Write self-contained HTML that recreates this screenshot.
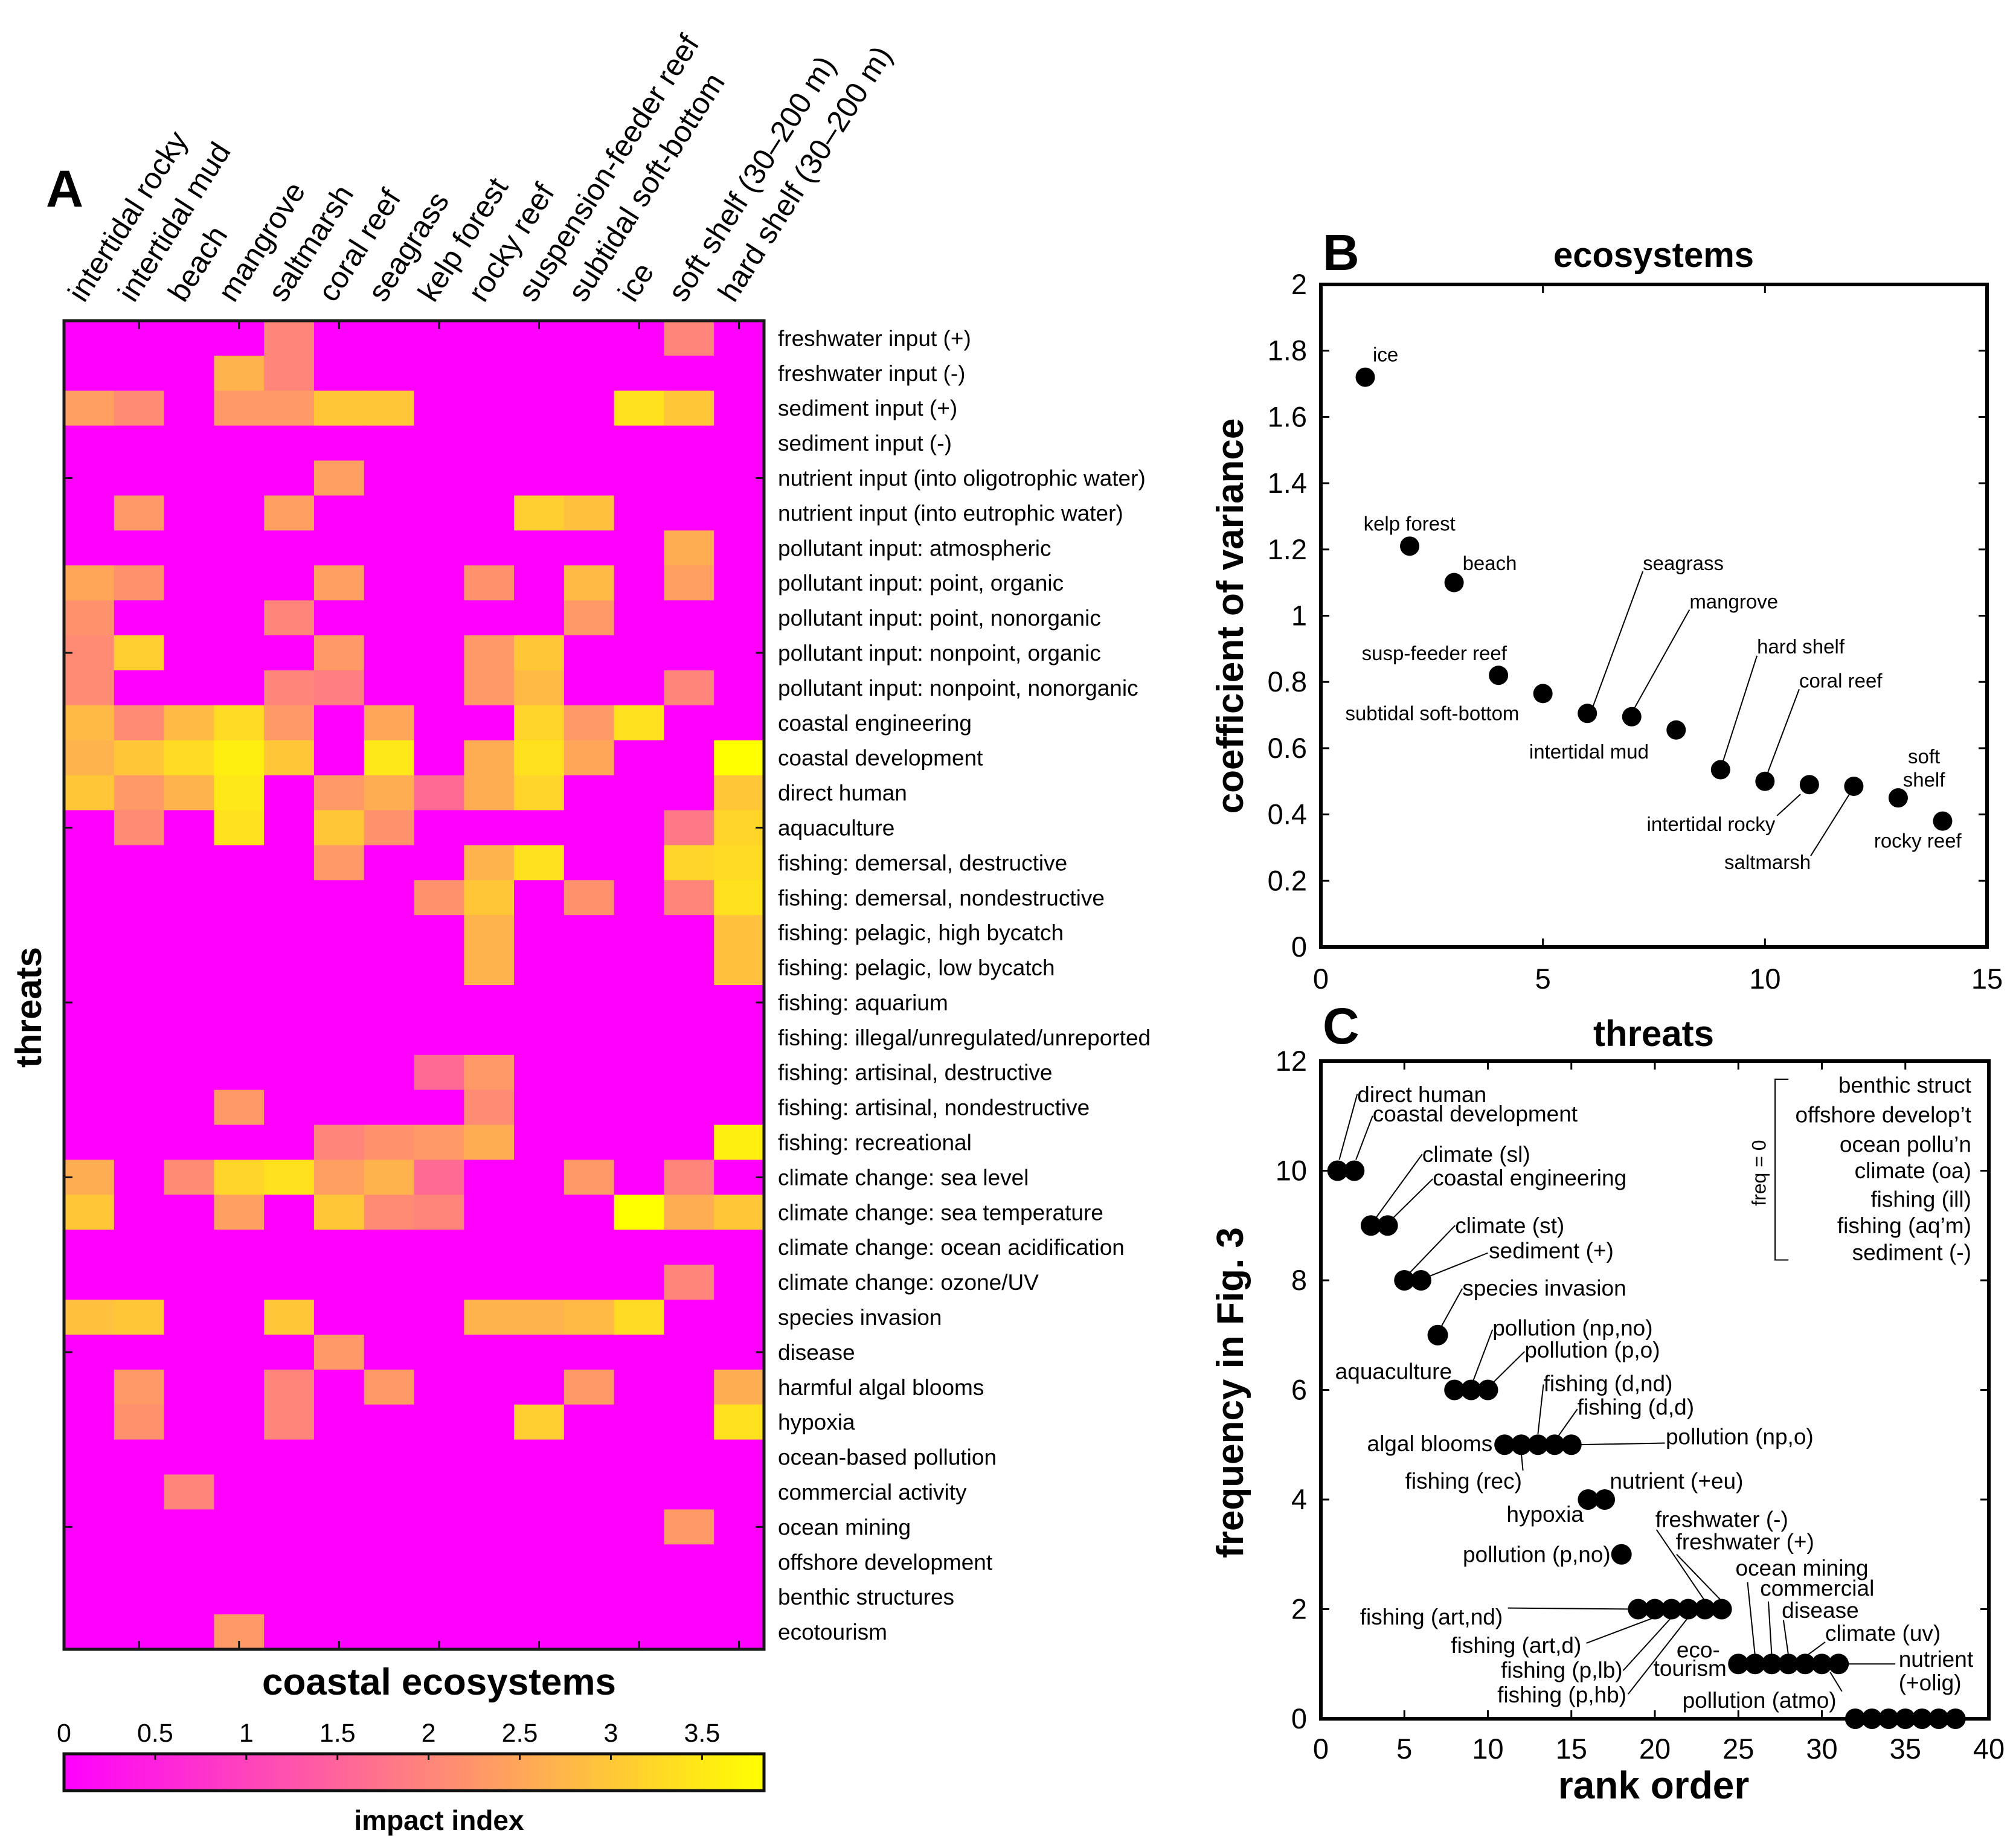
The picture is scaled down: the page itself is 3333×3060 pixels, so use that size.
<!DOCTYPE html>
<html><head><meta charset="utf-8">
<style>
html,body{margin:0;padding:0;background:#fff;}
svg{display:block;font-family:"Liberation Sans",Arial,sans-serif;}
</style></head>
<body>
<svg id="fig" xmlns="http://www.w3.org/2000/svg" width="3333" height="3060" viewBox="0 0 3333 3060">
<rect x="0" y="0" width="3333" height="3060" fill="#fff"/>
<g id="panelA"></g>
<g id="panelB"></g>
<g id="panelC"></g>
</svg>
<script>
// ---------- Panel A data ----------
const ecosystems = ["intertidal rocky","intertidal mud","beach","mangrove","saltmarsh","coral reef","seagrass","kelp forest","rocky reef","suspension-feeder reef","subtidal soft-bottom","ice","soft shelf (30–200 m)","hard shelf (30–200 m)"];
const threats = ["freshwater input (+)","freshwater input (-)","sediment input (+)","sediment input (-)","nutrient input (into oligotrophic water)","nutrient input (into eutrophic water)","pollutant input: atmospheric","pollutant input: point, organic","pollutant input: point, nonorganic","pollutant input: nonpoint, organic","pollutant input: nonpoint, nonorganic","coastal engineering","coastal development","direct human","aquaculture","fishing: demersal, destructive","fishing: demersal, nondestructive","fishing: pelagic, high bycatch","fishing: pelagic, low bycatch","fishing: aquarium","fishing: illegal/unregulated/unreported","fishing: artisinal, destructive","fishing: artisinal, nondestructive","fishing: recreational","climate change: sea level","climate change: sea temperature","climate change: ocean acidification","climate change: ozone/UV","species invasion","disease","harmful algal blooms","hypoxia","ocean-based pollution","commercial activity","ocean mining","offshore development","benthic structures","ecotourism"];
const impact = [
[0,0,0,0,2.0,0,0,0,0,0,0,0,2.0,0],
[0,0,0,2.7,2.0,0,0,0,0,0,0,0,0,0],
[2.4,2.1,0,2.3,2.3,3.0,3.0,0,0,0,0,3.4,3.0,0],
[0,0,0,0,0,0,0,0,0,0,0,0,0,0],
[0,0,0,0,0,2.4,0,0,0,0,0,0,0,0],
[0,2.3,0,0,2.4,0,0,0,0,3.1,2.9,0,0,0],
[0,0,0,0,0,0,0,0,0,0,0,0,2.6,0],
[2.5,2.2,0,0,0,2.4,0,0,2.2,0,2.8,0,2.4,0],
[2.2,0,0,0,2.0,0,0,0,0,0,2.3,0,0,0],
[2.1,3.1,0,0,0,2.3,0,0,2.3,3.0,0,0,0,0],
[2.1,0,0,0,2.0,1.9,0,0,2.3,2.8,0,0,2.0,0],
[2.8,2.1,2.8,3.3,2.3,0,2.5,0,0,3.2,2.3,3.4,0,0],
[2.7,3.0,3.3,3.6,3.0,0,3.5,0,2.6,3.4,2.5,0,0,3.84],
[3.0,2.3,2.7,3.5,0,2.3,2.6,1.6,2.6,3.2,0,0,0,3.0],
[0,2.1,0,3.4,0,3.0,2.2,0,0,0,0,0,1.8,3.2],
[0,0,0,0,0,2.3,0,0,2.7,3.4,0,0,3.2,3.3],
[0,0,0,0,0,0,0,2.2,3.0,0,2.2,0,2.0,3.4],
[0,0,0,0,0,0,0,0,2.7,0,0,0,0,2.9],
[0,0,0,0,0,0,0,0,2.7,0,0,0,0,2.9],
[0,0,0,0,0,0,0,0,0,0,0,0,0,0],
[0,0,0,0,0,0,0,0,0,0,0,0,0,0],
[0,0,0,0,0,0,0,1.6,2.3,0,0,0,0,0],
[0,0,0,2.3,0,0,0,0,2.1,0,0,0,0,0],
[0,0,0,0,0,2.0,2.2,2.3,2.6,0,0,0,0,3.6],
[2.6,0,2.1,3.2,3.4,2.4,2.7,1.6,0,0,2.3,0,2.0,0],
[3.0,0,0,2.4,0,3.0,2.1,2.0,0,0,0,3.84,2.6,3.0],
[0,0,0,0,0,0,0,0,0,0,0,0,0,0],
[0,0,0,0,0,0,0,0,0,0,0,0,2.0,0],
[2.9,3.0,0,0,3.0,0,0,0,2.7,2.7,2.8,3.3,0,0],
[0,0,0,0,0,2.3,0,0,0,0,0,0,0,0],
[0,2.3,0,0,2.0,0,2.3,0,0,0,2.3,0,0,2.6],
[0,2.2,0,0,2.0,0,0,0,0,3.1,0,0,0,3.4],
[0,0,0,0,0,0,0,0,0,0,0,0,0,0],
[0,0,2.0,0,0,0,0,0,0,0,0,0,0,0],
[0,0,0,0,0,0,0,0,0,0,0,0,2.3,0],
[0,0,0,0,0,0,0,0,0,0,0,0,0,0],
[0,0,0,0,0,0,0,0,0,0,0,0,0,0],
[0,0,0,2.3,0,0,0,0,0,0,0,0,0,0]
];
const cbTicks = [0,0.5,1,1.5,2,2.5,3,3.5];
const cbTickLabels = ["0","0.5","1","1.5","2","2.5","3","3.5"];

// ---------- Panel B data ----------
const ecoRank = [1,2,3,4,5,6,7,8,9,10,11,12,13,14];
const ecoCV = [1.72,1.21,1.10,0.82,0.765,0.705,0.695,0.655,0.535,0.50,0.49,0.485,0.45,0.38];
const bXTicks = [0,5,10,15];
const bYTicks = [0,0.2,0.4,0.6,0.8,1,1.2,1.4,1.6,1.8,2];
const bYTickLabels = ["0","0.2","0.4","0.6","0.8","1","1.2","1.4","1.6","1.8","2"];

// ---------- Panel C data ----------
const threatRank = [1,2,3,4,5,6,7,8,9,10,11,12,13,14,15,16,17,18,19,20,21,22,23,24,25,26,27,28,29,30,31,32,33,34,35,36,37,38];
const threatFreq = [10,10,9,9,8,8,7,6,6,6,5,5,5,5,5,4,4,3,2,2,2,2,2,2,1,1,1,1,1,1,1,0,0,0,0,0,0,0];
const cXTicks = [0,5,10,15,20,25,30,35,40];
const cYTicks = [0,2,4,6,8,10,12];

const NS="http://www.w3.org/2000/svg";
function mk(parent, tag, attrs, text){
  const e=document.createElementNS(NS,tag);
  for(const k in attrs) e.setAttribute(k,attrs[k]);
  if(text!==undefined) e.textContent=text;
  parent.appendChild(e);
  return e;
}
function colorOf(v){
  const t=Math.max(0,Math.min(1,v/3.84));
  return "rgb(255,"+Math.round(255*t)+","+Math.round(255*(1-t))+")";
}

// ================= PANEL A =================
(function(){
  const g=document.getElementById('panelA');
  const X0=106, X1=1265, Y0=531, Y1=2731;
  const nC=ecosystems.length, nR=threats.length;
  const cw=(X1-X0)/nC, rh=(Y1-Y0)/nR;
  const xc=i=>X0+i*cw, yr=j=>Y0+j*rh;
  const cells=mk(g,'g',{});
  
  
  for(let j=0;j<nR;j++){
    for(let i=0;i<nC;i++){
      const r=mk(cells,'rect',{x:xc(i),y:yr(j),width:cw+0.6,height:rh+0.6,fill:colorOf(impact[j][i])});
      
      
    }
  }
  for(let i=1;i<nC;i+=2){
    const x=xc(i)+cw/2;
    mk(g,'line',{x1:x,y1:Y0,x2:x,y2:Y0+14,stroke:'#111','stroke-width':3});
    mk(g,'line',{x1:x,y1:Y1,x2:x,y2:Y1-14,stroke:'#111','stroke-width':3});
  }
  for(let j=4;j<nR;j+=5){
    const y=yr(j)+rh/2;
    mk(g,'line',{x1:X0,y1:y,x2:X0+14,y2:y,stroke:'#111','stroke-width':3});
    mk(g,'line',{x1:X1,y1:y,x2:X1-14,y2:y,stroke:'#111','stroke-width':3});
  }
  const fr=mk(g,'rect',{x:X0,y:Y0,width:X1-X0,height:Y1-Y0,fill:'none',stroke:'#1a1a1a','stroke-width':5});
  
  
  for(let j=0;j<nR;j++){
    const t=mk(g,'text',{x:1288,y:yr(j)+rh/2+13,'font-size':37,fill:'#000'},threats[j]);
    
    
  }
  for(let i=0;i<nC;i++){
    const x=xc(i)+cw/2-8, y=503;
    const t=mk(g,'text',{x:x,y:y,'font-size':50,fill:'#000',transform:'rotate(-57.5 '+x+' '+y+')'},ecosystems[i]);
    
    
  }
  const A=mk(g,'text',{x:76,y:342,'font-size':86,'font-weight':'bold'},'A');
  
  
  const yt=mk(g,'text',{x:0,y:0,'font-size':60,'font-weight':'bold','text-anchor':'middle',transform:'translate(68 1668) rotate(-90)'},'threats');
  
  
  const xt=mk(g,'text',{x:727,y:2806,'font-size':62,'font-weight':'bold','text-anchor':'middle'},'coastal ecosystems');
  
  
  const CB0=106, CB1=1265, CBy=2904, CBh=61, cbMax=3.84;
  const defs=mk(g,'defs',{});
  const lg=mk(defs,'linearGradient',{id:'cbgrad',x1:'0',y1:'0',x2:'1',y2:'0'});
  for(let k=0;k<=10;k++){mk(lg,'stop',{offset:(k*10)+'%','stop-color':colorOf(cbMax*k/10)});}
  const cb=mk(g,'rect',{x:CB0,y:CBy,width:CB1-CB0,height:CBh,fill:'url(#cbgrad)',stroke:'#111','stroke-width':5});
  
  
  cbTicks.forEach((v,k)=>{
    const x=CB0+(CB1-CB0)*v/cbMax;
    mk(g,'line',{x1:x,y1:CBy,x2:x,y2:CBy+10,stroke:'#111','stroke-width':3});
    const t=mk(g,'text',{x:x,y:2884,'font-size':43,'text-anchor':'middle'},cbTickLabels[k]);
    
    
  });
  const ct=mk(g,'text',{x:727,y:3030,'font-size':46,'font-weight':'bold','text-anchor':'middle'},'impact index');
  
  
})();

// ================= PANEL B =================
const bAnn = [
 {t:"ice",x:1.17,y:1.768,a:"start"},
 {t:"kelp forest",x:0.96,y:1.257,a:"start"},
 {t:"beach",x:3.19,y:1.138,a:"start"},
 {t:"susp-feeder reef",x:0.92,y:0.866,a:"start"},
 {t:"subtidal soft-bottom",x:0.55,y:0.685,a:"start"},
 {t:"seagrass",x:7.25,y:1.138,a:"start",l:[6.1,0.716,7.25,1.134]},
 {t:"mangrove",x:8.3,y:1.022,a:"start",l:[7.04,0.716,8.3,1.018]},
 {t:"intertidal mud",x:4.69,y:0.569,a:"start"},
 {t:"hard shelf",x:9.82,y:0.886,a:"start",l:[9.04,0.554,9.82,0.879]},
 {t:"coral reef",x:10.77,y:0.783,a:"start",l:[10.03,0.515,10.77,0.778]},
 {t:"intertidal rocky",x:10.23,y:0.35,a:"end",l:[10.27,0.396,10.8,0.461]},
 {t:"saltmarsh",x:11.03,y:0.235,a:"end",l:[11.03,0.275,11.9,0.461]},
 {t:"soft",x:13.58,y:0.554,a:"middle"},
 {t:"shelf",x:13.58,y:0.484,a:"middle"},
 {t:"rocky reef",x:13.44,y:0.30,a:"middle"}
];
(function(){
  const g=document.getElementById('panelB');
  const L=2187,R=3290,T=471,B=1568;
  const xs=v=>L+(R-L)*v/15, ys=v=>B-(B-T)*v/2;
  bXTicks.forEach(v=>{
    const x=xs(v);
    mk(g,'line',{x1:x,y1:B,x2:x,y2:B-14,stroke:'#000','stroke-width':3});
    mk(g,'line',{x1:x,y1:T,x2:x,y2:T+14,stroke:'#000','stroke-width':3});
    const t=mk(g,'text',{x:x,y:1637,'font-size':47,'text-anchor':'middle'},String(v));
    
    
  });
  bYTicks.forEach((v,k)=>{
    const y=ys(v);
    mk(g,'line',{x1:L,y1:y,x2:L+14,y2:y,stroke:'#000','stroke-width':3});
    mk(g,'line',{x1:R,y1:y,x2:R-14,y2:y,stroke:'#000','stroke-width':3});
    const t=mk(g,'text',{x:2164,y:y+16,'font-size':47,'text-anchor':'end'},bYTickLabels[k]);
    
    
  });
  const fr=mk(g,'rect',{x:L,y:T,width:R-L,height:B-T,fill:'none',stroke:'#000','stroke-width':6});
  
  
  bAnn.forEach(a=>{
    if(a.l){mk(g,'line',{x1:xs(a.l[0]),y1:ys(a.l[1]),x2:xs(a.l[2]),y2:ys(a.l[3]),stroke:'#000','stroke-width':2});}
    const t=mk(g,'text',{x:xs(a.x),y:ys(a.y),'font-size':33,'text-anchor':a.a},a.t);
    
    
  });
  ecoRank.forEach((r,k)=>{
    const c=mk(g,'circle',{cx:xs(r),cy:ys(ecoCV[k]),r:16,fill:'#000'});
    
    
  });
  const Bl=mk(g,'text',{x:2190,y:447,'font-size':84,'font-weight':'bold'},'B');
  
  
  const ti=mk(g,'text',{x:2738,y:442,'font-size':58,'font-weight':'bold','text-anchor':'middle'},'ecosystems');
  
  
  const yt=mk(g,'text',{x:0,y:0,'font-size':62,'font-weight':'bold','text-anchor':'middle',transform:'translate(2058 1020) rotate(-90)'},'coefficient of variance');
  
  
})();

// ================= PANEL C =================
const cAnn = [
 {t:"direct human",x:2.18,y:11.25,a:"start",l:[1.1,10.2,2.18,11.4]},
 {t:"coastal development",x:3.1,y:10.9,a:"start",l:[2.1,10.2,3.1,11.0]},
 {t:"climate (sl)",x:6.07,y:10.16,a:"start",l:[3.2,9.1,6.07,10.3]},
 {t:"coastal engineering",x:6.7,y:9.73,a:"start",l:[4.2,9.1,6.7,9.85]},
 {t:"climate (st)",x:8.04,y:8.86,a:"start",l:[5.2,8.1,8.04,9.0]},
 {t:"sediment (+)",x:10.06,y:8.4,a:"start",l:[6.3,8.05,10.0,8.5]},
 {t:"species invasion",x:8.47,y:7.72,a:"start",l:[7.2,7.15,8.47,7.85]},
 {t:"pollution (np,no)",x:10.28,y:6.99,a:"start",l:[9.1,6.15,10.28,7.1]},
 {t:"pollution (p,o)",x:12.2,y:6.59,a:"start",l:[10.2,6.1,12.2,6.7]},
 {t:"aquaculture",x:7.85,y:6.2,a:"end"},
 {t:"fishing (d,nd)",x:13.33,y:5.98,a:"start",l:[13.0,5.2,13.33,6.1]},
 {t:"fishing (d,d)",x:15.36,y:5.55,a:"start",l:[14.2,5.15,15.36,5.65]},
 {t:"pollution (np,o)",x:20.65,y:5.01,a:"start",l:[15.3,5.0,20.6,5.03]},
 {t:"algal blooms",x:10.28,y:4.88,a:"end"},
 {t:"fishing (rec)",x:5.05,y:4.2,a:"start",l:[12.0,4.85,12.1,4.53]},
 {t:"nutrient (+eu)",x:17.3,y:4.2,a:"start"},
 {t:"hypoxia",x:15.73,y:3.59,a:"end"},
 {t:"pollution (p,no)",x:17.35,y:2.86,a:"end"},
 {t:"freshwater (-)",x:20.03,y:3.5,a:"start",l:[20.1,3.45,23.0,2.15]},
 {t:"freshwater (+)",x:21.25,y:3.09,a:"start",l:[21.3,3.0,24.0,2.15]},
 {t:"fishing (art,nd)",x:2.34,y:1.72,a:"start",l:[11.2,2.02,19.0,2.0]},
 {t:"fishing (art,d)",x:7.79,y:1.2,a:"start",l:[15.9,1.38,20.0,1.85]},
 {t:"fishing (p,lb)",x:18.07,y:0.75,a:"end",l:[18.1,0.88,21.0,1.85]},
 {t:"fishing (p,hb)",x:18.3,y:0.3,a:"end",l:[18.4,0.45,22.0,1.85]},
 {t:"eco-",x:23.9,y:1.12,a:"end"},
 {t:"tourism",x:24.3,y:0.78,a:"end"},
 {t:"ocean mining",x:24.83,y:2.61,a:"start",l:[25.55,2.49,26.0,1.15]},
 {t:"commercial",x:26.3,y:2.24,a:"start",l:[26.8,2.14,27.0,1.15]},
 {t:"disease",x:27.6,y:1.84,a:"start",l:[27.7,1.8,28.0,1.15]},
 {t:"climate (uv)",x:30.2,y:1.42,a:"start",l:[30.2,1.4,29.0,1.13]},
 {t:"nutrient",x:34.6,y:0.95,a:"start",l:[31.2,1.0,34.4,1.0]},
 {t:"(+olig)",x:34.6,y:0.52,a:"start"},
 {t:"pollution (atmo)",x:21.65,y:0.2,a:"start",l:[30.5,0.85,31.2,0.5]}
];
const zeroThreats = ["benthic struct","offshore develop’t","ocean pollu’n","climate (oa)","fishing (ill)","fishing (aq’m)","sediment (-)"];
(function(){
  const g=document.getElementById('panelC');
  const L=2187,R=3293,T=1757,B=2846;
  const xs=v=>L+(R-L)*v/40, ys=v=>B-(B-T)*v/12;
  cXTicks.forEach(v=>{
    const x=xs(v);
    mk(g,'line',{x1:x,y1:B,x2:x,y2:B-14,stroke:'#000','stroke-width':3});
    mk(g,'line',{x1:x,y1:T,x2:x,y2:T+14,stroke:'#000','stroke-width':3});
    const t=mk(g,'text',{x:x,y:2912,'font-size':47,'text-anchor':'middle'},String(v));
    
    
  });
  cYTicks.forEach(v=>{
    const y=ys(v);
    mk(g,'line',{x1:L,y1:y,x2:L+14,y2:y,stroke:'#000','stroke-width':3});
    mk(g,'line',{x1:R,y1:y,x2:R-14,y2:y,stroke:'#000','stroke-width':3});
    const t=mk(g,'text',{x:2164,y:y+16,'font-size':47,'text-anchor':'end'},String(v));
    
    
  });
  const fr=mk(g,'rect',{x:L,y:T,width:R-L,height:B-T,fill:'none',stroke:'#000','stroke-width':6});
  
  
  cAnn.forEach(a=>{
    if(a.l){mk(g,'line',{x1:xs(a.l[0]),y1:ys(a.l[1]),x2:xs(a.l[2]),y2:ys(a.l[3]),stroke:'#000','stroke-width':2});}
    const t=mk(g,'text',{x:xs(a.x),y:ys(a.y),'font-size':37,'text-anchor':a.a},a.t);
    
    
  });
  threatRank.forEach((r,k)=>{
    const c=mk(g,'circle',{cx:xs(r),cy:ys(threatFreq[k]),r:17,fill:'#000'});
    
    
  });
  const bx1=xs(27.2), bx2=xs(28.0), by1=ys(11.67), by2=ys(8.37);
  const br=mk(g,'path',{d:'M'+bx2+' '+by1+' L'+bx1+' '+by1+' L'+bx1+' '+by2+' L'+bx2+' '+by2,fill:'none',stroke:'#000','stroke-width':2});
  
  
  const fq=mk(g,'text',{x:0,y:0,'font-size':32,'text-anchor':'middle',transform:'translate('+(xs(26.2)+12)+' '+ys(9.96)+') rotate(-90)'},'freq = 0');
  
  
  const zy=[11.42,10.88,10.34,9.86,9.34,8.86,8.37];
  zeroThreats.forEach((s,k)=>{
    const t=mk(g,'text',{x:xs(38.95),y:ys(zy[k]),'font-size':37,'text-anchor':'end'},s);
    
    
  });
  const Cl=mk(g,'text',{x:2190,y:1728,'font-size':84,'font-weight':'bold'},'C');
  
  
  const ti=mk(g,'text',{x:2738,y:1732,'font-size':60,'font-weight':'bold','text-anchor':'middle'},'threats');
  
  
  const yt=mk(g,'text',{x:0,y:0,'font-size':62,'font-weight':'bold','text-anchor':'middle',transform:'translate(2058 2306) rotate(-90)'},'frequency in Fig. 3');
  
  
  const xt=mk(g,'text',{x:2738,y:2978,'font-size':64,'font-weight':'bold','text-anchor':'middle'},'rank order');
  
  
})();
</script>
</body></html>
